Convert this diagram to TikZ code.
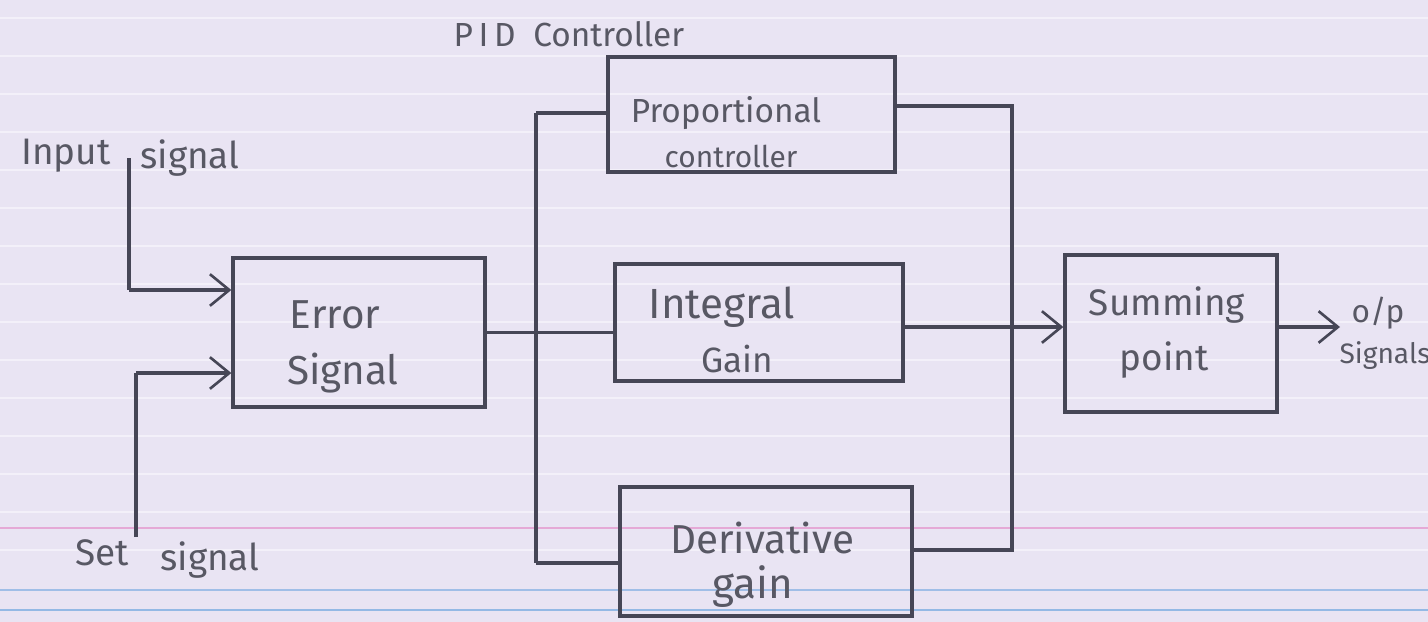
\documentclass[tikz,border=0pt]{standalone}
\usepackage{fontspec}
\setmainfont{Fira Sans}
\usetikzlibrary{arrows.meta}
\definecolor{paper}{RGB}{233,228,243}
\definecolor{rule}{RGB}{243,240,249}
\definecolor{pinkrule}{RGB}{226,120,190}
\definecolor{bluerule}{RGB}{120,170,225}
\definecolor{pencil}{RGB}{70,70,86}
\definecolor{ink}{RGB}{88,88,100}
\begin{document}
\begin{tikzpicture}[x=0.02cm,y=-0.02cm,
  wire/.style={draw=pencil, line width=1.9pt},
  feed/.style={wire, -{Straight Barb[length=11pt,width=18pt,line width=1.5pt]}},
  blockbox/.style={draw=pencil, line width=1.9pt, inner sep=0pt},
  word/.style={text=ink, inner sep=0pt, font=\fontsize{21}{25}\selectfont},
  smallword/.style={word, font=\fontsize{18}{21}\selectfont}]

% ruled paper
\fill[paper] (0,0) rectangle (1428,622);
\useasboundingbox (0,0) rectangle (1428,622);
\foreach \y in {18,56,94,132,170,208,246,284,322,360,398,436,474,512,550}
  \draw[rule, line width=1pt] (0,\y) -- (1428,\y);
\draw[pinkrule!55!paper, line width=1pt] (0,528) -- (1428,528);
\draw[bluerule!65!paper, line width=1pt] (0,590) -- (1428,590);
\draw[bluerule!75!paper, line width=1pt] (0,610) -- (1428,610);

% blocks
\node[blockbox, minimum width=5.04cm, minimum height=2.98cm] (err)  at (359,332.5) {};
\node[blockbox, minimum width=5.74cm, minimum height=2.30cm] (prop) at (751.5,114.5) {};
\node[blockbox, minimum width=5.76cm, minimum height=2.34cm] (intg) at (759,322.5) {};
\node[blockbox, minimum width=5.84cm, minimum height=2.58cm] (der)  at (766,551.5) {};
\node[blockbox, minimum width=4.24cm, minimum height=3.14cm] (sum)  at (1171,333.5) {};

% block texts
\node[word, font=\fontsize{23}{26}\selectfont] (errA) at (335,315) {Error};
\node[word, font=\fontsize{23}{26}\selectfont] (errB) at (343,373) {Signal};
\node[word, font=\fontsize{19}{22}\selectfont] (propA) at (726,113) {Proportional};
\node[word, font=\fontsize{17}{20}\selectfont] (propB) at (731,156) {controller};
\node[word, font=\fontsize{24}{27}\selectfont] (intgA) at (722,307) {Integral};
\node[word, font=\fontsize{20}{24}\selectfont] (intgB) at (737,359) {Gain};
\node[word, font=\fontsize{23}{26}\selectfont] (derA) at (762,538) {Derivative};
\node[word, font=\fontsize{24}{27}\selectfont] (derB) at (753,587) {gain};
\node[word, font=\fontsize{21}{25}\selectfont] (sumA) at (1167,305) {Summing};
\node[word] (sumB) at (1164,360) {point};

% outer labels
\node[word, font=\fontsize{19}{22}\selectfont] (title) at (569,34) {P\,I\,D\ \ Controller};
\node[word] (inA) at (66,156) {Input};
\node[word] (inB) at (190,158) {signal};
\node[word] (setA) at (102,553) {Set};
\node[word] (setB) at (210,560) {signal};
\node[smallword] (outA) at (1378,313) {o/p};
\node[word, font=\fontsize{16}{19}\selectfont] (outB) at (1385,356) {Signals};

% junction points of the wiring
\coordinate (inTop) at (129,158);
\coordinate (inC) at (129,290);
\coordinate (setBot) at (136,537);
\coordinate (setC) at (136,373);
\coordinate (busLtop) at (536,113);
\coordinate (busLbot) at (536,563);
\coordinate (busRtop) at (1012,106);
\coordinate (busRbot) at (1012,550);
\coordinate (outEnd) at (1340,327);

% inputs to the error block
\draw[wire] (inTop) -- (inC);
\draw[feed] (inC) -- (inC -| err.west);
\draw[wire] (setBot) -- (setC);
\draw[feed] (setC) -- (setC -| err.west);

% branching to the three actions
\draw[wire] (err.east) -- (err.east -| intg.west);
\draw[wire] (busLtop) -- (busLbot);
\draw[wire] (busLtop) -- (busLtop -| prop.west);
\draw[wire] (busLbot) -- (busLbot -| der.west);

% recombining into the summing point
\draw[wire] (busRtop -| prop.east) -- (busRtop) -- (busRbot) -- (busRbot -| der.east);
\draw[feed] (intg.east |- outEnd) -- (outEnd -| sum.west);
\draw[feed] (outEnd -| sum.east) -- (outEnd);
\end{tikzpicture}
\end{document}
